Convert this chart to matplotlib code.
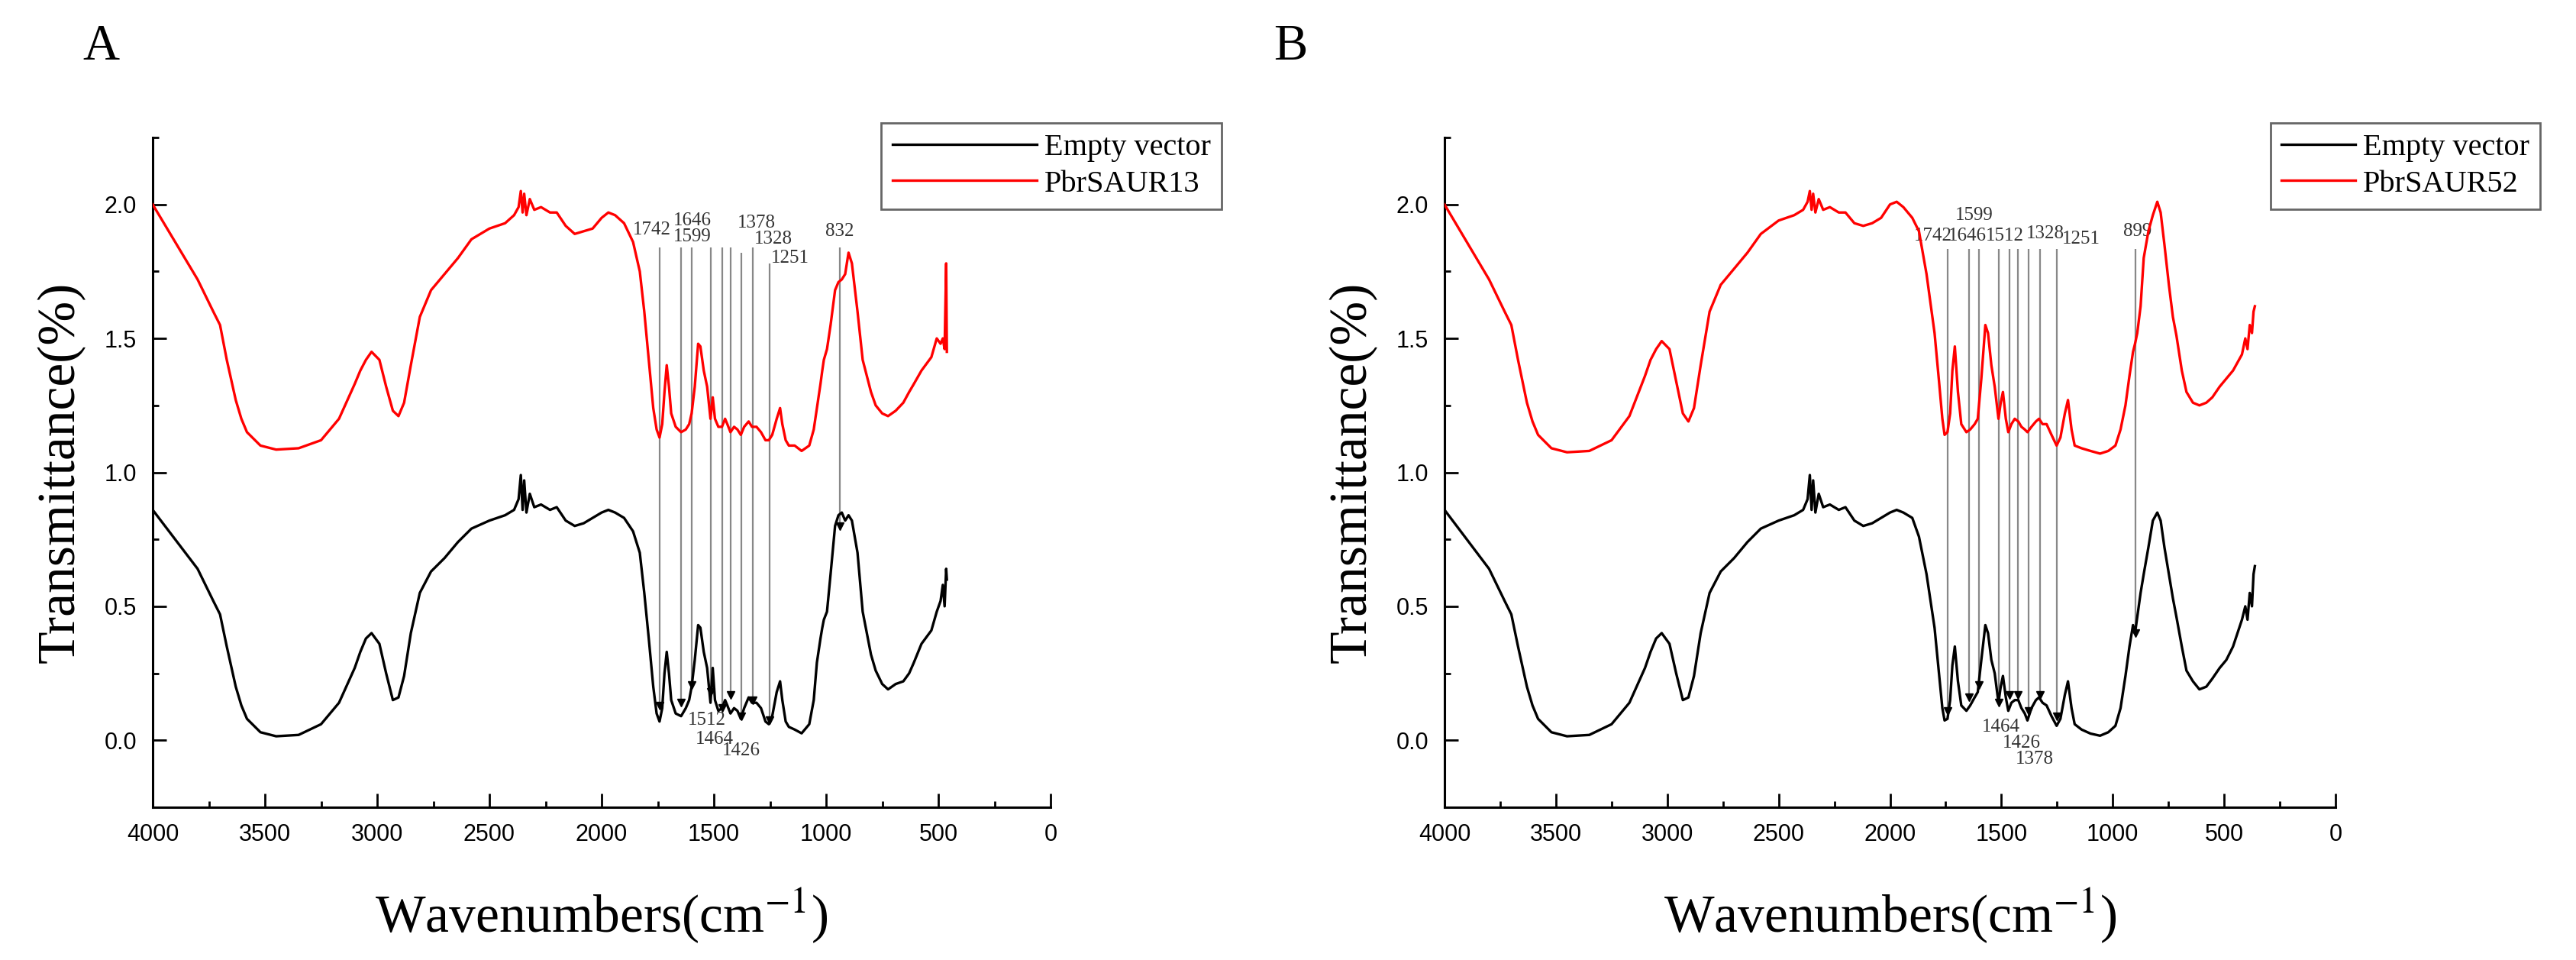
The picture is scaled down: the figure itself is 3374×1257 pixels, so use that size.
import matplotlib.pyplot as plt
import matplotlib

matplotlib.rcParams['font.family'] = 'Liberation Serif'
matplotlib.rcParams['mathtext.fontset'] = 'stix'

# ---- data: panel A ----
wn_a = [4000, 3900, 3800, 3730, 3700, 3670, 3630, 3605, 3580, 3520, 3450, 3350, 3250, 3170, 3100,
        3075, 3050, 3025, 2990, 2960, 2930, 2905, 2880, 2850, 2810, 2760, 2700, 2640, 2580, 2500,
        2430, 2390, 2370, 2360, 2352, 2345, 2335, 2320, 2300, 2270, 2230, 2200, 2160, 2120,
        2080, 2040, 2000, 1970, 1940, 1900, 1860, 1830, 1810, 1790, 1770, 1755, 1742, 1730,
        1720, 1710, 1700, 1690, 1670, 1646, 1625, 1610, 1599, 1585, 1570, 1560, 1545, 1530,
        1515, 1505, 1495, 1480, 1464, 1450, 1440, 1426, 1410, 1395, 1380, 1365, 1345, 1330,
        1310, 1290, 1270, 1255, 1240, 1220, 1205, 1195, 1180, 1166, 1140, 1109, 1075, 1055,
        1041, 1025, 1017, 1010, 996, 980, 960, 945, 930, 915, 900, 885, 860, 837, 800, 779,
        750, 724, 690, 656, 630, 609, 575, 531, 507, 490, 480, 472, 465, 462]
empty_a = [0.86, 0.75, 0.64, 0.52, 0.47, 0.35, 0.20, 0.13, 0.08, 0.03, 0.015, 0.02, 0.06, 0.14, 0.27,
           0.33, 0.38, 0.40, 0.36, 0.25, 0.15, 0.16, 0.24, 0.40, 0.55, 0.63, 0.68, 0.74, 0.79, 0.82,
           0.84, 0.86, 0.90, 0.99, 0.86, 0.97, 0.85, 0.92, 0.87, 0.88, 0.86, 0.87, 0.82, 0.80,
           0.81, 0.83, 0.85, 0.86, 0.85, 0.83, 0.78, 0.70, 0.55, 0.38, 0.20, 0.10, 0.07, 0.12,
           0.25, 0.33, 0.25, 0.15, 0.10, 0.09, 0.12, 0.15, 0.20, 0.30, 0.43, 0.42, 0.33, 0.27,
           0.14, 0.27, 0.15, 0.11, 0.12, 0.15, 0.13, 0.10, 0.12, 0.11, 0.08, 0.12, 0.16, 0.14,
           0.14, 0.12, 0.07, 0.06, 0.09, 0.18, 0.22, 0.15, 0.07, 0.05, 0.04, 0.026, 0.06, 0.15,
           0.29, 0.38, 0.42, 0.45, 0.48, 0.62, 0.80, 0.84, 0.85, 0.82, 0.84, 0.82, 0.70, 0.48,
           0.32, 0.26, 0.21, 0.19, 0.21, 0.22, 0.25, 0.29, 0.36, 0.41, 0.48, 0.52, 0.58, 0.50,
           0.64, 0.60]
saur13 = [2.00, 1.86, 1.72, 1.60, 1.55, 1.42, 1.27, 1.20, 1.15, 1.10, 1.085, 1.09, 1.12, 1.20, 1.33,
          1.38, 1.42, 1.45, 1.42, 1.32, 1.23, 1.21, 1.26, 1.40, 1.58, 1.68, 1.74, 1.80, 1.87, 1.91,
          1.93, 1.96, 1.99, 2.05, 1.97, 2.04, 1.96, 2.02, 1.98, 1.99, 1.97, 1.97, 1.92, 1.89,
          1.90, 1.91, 1.95, 1.97, 1.96, 1.93, 1.86, 1.75, 1.60, 1.42, 1.24, 1.16, 1.13, 1.18,
          1.30, 1.40, 1.32, 1.22, 1.17, 1.15, 1.16, 1.18, 1.22, 1.32, 1.48, 1.47, 1.38, 1.32,
          1.20, 1.28, 1.20, 1.17, 1.17, 1.20, 1.18, 1.15, 1.17, 1.16, 1.14, 1.17, 1.19, 1.17,
          1.17, 1.15, 1.12, 1.12, 1.14, 1.20, 1.24, 1.18, 1.12, 1.10, 1.10, 1.08, 1.10, 1.16,
          1.24, 1.33, 1.38, 1.42, 1.46, 1.55, 1.68, 1.71, 1.72, 1.74, 1.82, 1.78, 1.60, 1.42,
          1.30, 1.25, 1.22, 1.21, 1.23, 1.26, 1.30, 1.33, 1.38, 1.43, 1.50, 1.48, 1.50, 1.46,
          1.78, 1.45]

peak_x_a = [1742, 1646, 1599, 1512, 1464, 1426, 1378, 1328, 1251, 940]
peak_top_a = [1.84, 1.84, 1.84, 1.84, 1.84, 1.84, 1.82, 1.84, 1.78, 1.84]
peak_bot_a = [0.13, 0.14, 0.205, 0.18, 0.12, 0.17, 0.09, 0.15, 0.074, 0.80]
label_a = ['1742', '1646', '1599', '1378', '1328', '1251', '832', '1512', '1464', '1426']
label_xa = [1777, 1597, 1597, 1311, 1236, 1161, 940, 1532, 1498, 1379]
label_ya = [1.906, 1.94, 1.88, 1.93, 1.87, 1.80, 1.90, 0.074, 0.003, -0.04]

# ---- data: panel B ----
wn_b = [4000, 3900, 3800, 3730, 3700, 3670, 3630, 3605, 3580, 3520, 3450, 3350, 3250, 3170, 3100,
        3075, 3050, 3025, 2990, 2960, 2930, 2905, 2880, 2850, 2810, 2760, 2700, 2640, 2580, 2500,
        2430, 2390, 2370, 2360, 2352, 2345, 2335, 2320, 2300, 2270, 2230, 2200, 2160, 2120,
        2080, 2040, 2000, 1970, 1940, 1900, 1870, 1836, 1800, 1780, 1765, 1755, 1742, 1730,
        1720, 1709, 1695, 1680, 1657, 1640, 1620, 1606, 1590, 1572, 1560, 1545, 1530, 1513,
        1503, 1493, 1480, 1469, 1455, 1440, 1424, 1410, 1395, 1383, 1365, 1345, 1331, 1315,
        1297, 1275, 1252, 1235, 1215, 1201, 1185, 1171, 1140, 1100, 1057, 1020, 988, 965, 943,
        925, 909, 900, 890, 875, 861, 840, 820, 800, 785, 768, 748, 730, 714, 690, 669, 640,
        611, 580, 553, 520, 490, 460, 440, 420, 405, 395, 385, 375, 368, 362]
empty_b = [0.86, 0.75, 0.64, 0.52, 0.47, 0.35, 0.20, 0.13, 0.08, 0.03, 0.015, 0.02, 0.06, 0.14, 0.27,
           0.33, 0.38, 0.40, 0.36, 0.25, 0.15, 0.16, 0.24, 0.40, 0.55, 0.63, 0.68, 0.74, 0.79, 0.82,
           0.84, 0.86, 0.90, 0.99, 0.86, 0.97, 0.85, 0.92, 0.87, 0.88, 0.86, 0.87, 0.82, 0.80,
           0.81, 0.83, 0.85, 0.86, 0.85, 0.83, 0.76, 0.62, 0.42, 0.25, 0.12, 0.074, 0.08, 0.15,
           0.28, 0.35, 0.22, 0.13, 0.11, 0.13, 0.16, 0.18, 0.30, 0.43, 0.40, 0.30, 0.25, 0.14,
           0.20, 0.24, 0.16, 0.11, 0.14, 0.15, 0.15, 0.12, 0.10, 0.074, 0.12, 0.15, 0.16, 0.14,
           0.13, 0.09, 0.054, 0.08, 0.17, 0.22, 0.12, 0.06, 0.04, 0.025, 0.017, 0.03, 0.054, 0.12,
           0.24, 0.35, 0.43, 0.40, 0.46, 0.55, 0.62, 0.72, 0.82, 0.85, 0.82, 0.72, 0.62, 0.53,
           0.46, 0.35, 0.26, 0.22, 0.19, 0.20, 0.23, 0.27, 0.30, 0.35, 0.40, 0.45, 0.50, 0.45,
           0.55, 0.50, 0.62, 0.65]
saur52 = [2.00, 1.86, 1.72, 1.60, 1.55, 1.42, 1.26, 1.19, 1.14, 1.09, 1.075, 1.08, 1.12, 1.21, 1.36,
          1.42, 1.46, 1.49, 1.46, 1.34, 1.22, 1.19, 1.24, 1.40, 1.60, 1.70, 1.76, 1.82, 1.89, 1.94,
          1.96, 1.98, 2.01, 2.05, 1.98, 2.04, 1.97, 2.02, 1.98, 1.99, 1.97, 1.97, 1.93, 1.92,
          1.93, 1.95, 2.00, 2.01, 1.99, 1.95, 1.90, 1.74, 1.52, 1.34, 1.20, 1.14, 1.15, 1.22,
          1.38, 1.47, 1.30, 1.18, 1.15, 1.16, 1.18, 1.20, 1.35, 1.55, 1.52, 1.40, 1.32, 1.20,
          1.26, 1.30, 1.20, 1.15, 1.18, 1.20, 1.19, 1.17, 1.16, 1.15, 1.17, 1.19, 1.20, 1.18,
          1.18, 1.14, 1.10, 1.13, 1.22, 1.27, 1.16, 1.10, 1.09, 1.08, 1.07, 1.08, 1.10, 1.16,
          1.25, 1.36, 1.45, 1.48, 1.52, 1.62, 1.80, 1.90, 1.96, 2.01, 1.97, 1.85, 1.70, 1.58,
          1.51, 1.38, 1.30, 1.26, 1.25, 1.26, 1.28, 1.32, 1.35, 1.38, 1.41, 1.44, 1.50, 1.46,
          1.55, 1.52, 1.60, 1.62]

peak_x_b = [1742, 1646, 1599, 1512, 1464, 1426, 1378, 1328, 1251, 899]
peak_top_b = [1.835] * 10
peak_bot_b = [0.11, 0.16, 0.205, 0.14, 0.17, 0.17, 0.11, 0.17, 0.09, 0.40]
label_b = ['1742', '1646', '1599', '1512', '1328', '1251', '899', '1464', '1426', '1378']
label_xb = [1808, 1651, 1623, 1486, 1302, 1143, 890, 1503, 1409, 1350]
label_yb = [1.883, 1.883, 1.96, 1.883, 1.89, 1.87, 1.90, 0.05, -0.01, -0.07]

W, H = 3374, 1257
fig = plt.figure(figsize=(W / 100, H / 100), dpi=100, facecolor='white')
ax_a = fig.add_axes([200 / W, 200 / H, 1176 / W, 877 / H])
ax_b = fig.add_axes([1892 / W, 200 / H, 1167 / W, 877 / H])


def draw_panel(ax, wn, ev, pb, pb_name, px, ptop, pbot, labs, lx, ly, hlen, legend_right):
    ax.plot(wn, ev, color='black', lw=2.4, zorder=3, label='Empty vector',
            solid_joinstyle='round')
    ax.plot(wn, pb, color='#ff0000', lw=2.4, zorder=3, label=pb_name,
            solid_joinstyle='round')
    # peak marker lines
    ax.vlines(px, pbot, ptop, color='#888888', lw=1.6, zorder=2)
    ax.plot(px, pbot, linestyle='none', marker='v', color='black', ms=7, zorder=4)
    for t, x, y in zip(labs, lx, ly):
        ax.text(x, y, t, ha='center', va='center', fontsize=18, color='#333333', zorder=2)

    ax.set_xlim(4000, 0)
    ax.set_ylim(-0.25, 2.25)
    ax.set_xticks([4000, 3500, 3000, 2500, 2000, 1500, 1000, 500, 0])
    ax.set_xticks(range(250, 4000, 500), minor=True)
    ax.set_yticks([0.0, 0.5, 1.0, 1.5, 2.0])
    ax.set_yticks([-0.25, 0.25, 0.75, 1.25, 1.75, 2.25], minor=True)
    ax.set_yticklabels(['0.0', '0.5', '1.0', '1.5', '2.0'])
    ax.spines['top'].set_visible(False)
    ax.spines['right'].set_visible(False)
    for s in ['left', 'bottom']:
        ax.spines[s].set_linewidth(2.2)
    ax.tick_params(which='both', direction='in', width=2, pad=15)
    ax.tick_params(which='major', length=13)
    ax.tick_params(which='minor', length=6)
    for lab in ax.get_xticklabels() + ax.get_yticklabels():
        lab.set_family('Liberation Sans')
        lab.set_fontsize(22)
    ax.set_xlabel(r'Wavenumbers(cm$^{-1}$)', fontsize=50, labelpad=38)
    ax.set_ylabel('Transmittance(%)', fontsize=50, labelpad=18)

    leg = ax.legend(loc='upper right', bbox_to_anchor=(legend_right / W, 1 - 161 / H),
                    bbox_transform=fig.transFigure, borderaxespad=0, fontsize=29,
                    handlelength=hlen, handletextpad=0.25, labelspacing=0.25,
                    borderpad=0.35, fancybox=False, framealpha=1)
    leg.get_frame().set_edgecolor('#666666')
    leg.get_frame().set_linewidth(2)


draw_panel(ax_a, wn_a, empty_a, saur13, 'PbrSAUR13', peak_x_a, peak_top_a, peak_bot_a,
           label_a, label_xa, label_ya, 4.7, 1600)
draw_panel(ax_b, wn_b, empty_b, saur52, 'PbrSAUR52', peak_x_b, peak_top_b, peak_bot_b,
           label_b, label_xb, label_yb, 2.4, 3327)

fig.text(132 / W, 1 - 62 / H, 'A', fontsize=48, ha='center', va='center')
fig.text(1690 / W, 1 - 62 / H, 'B', fontsize=48, ha='center', va='center')

fig.savefig('out.png', dpi=100)
